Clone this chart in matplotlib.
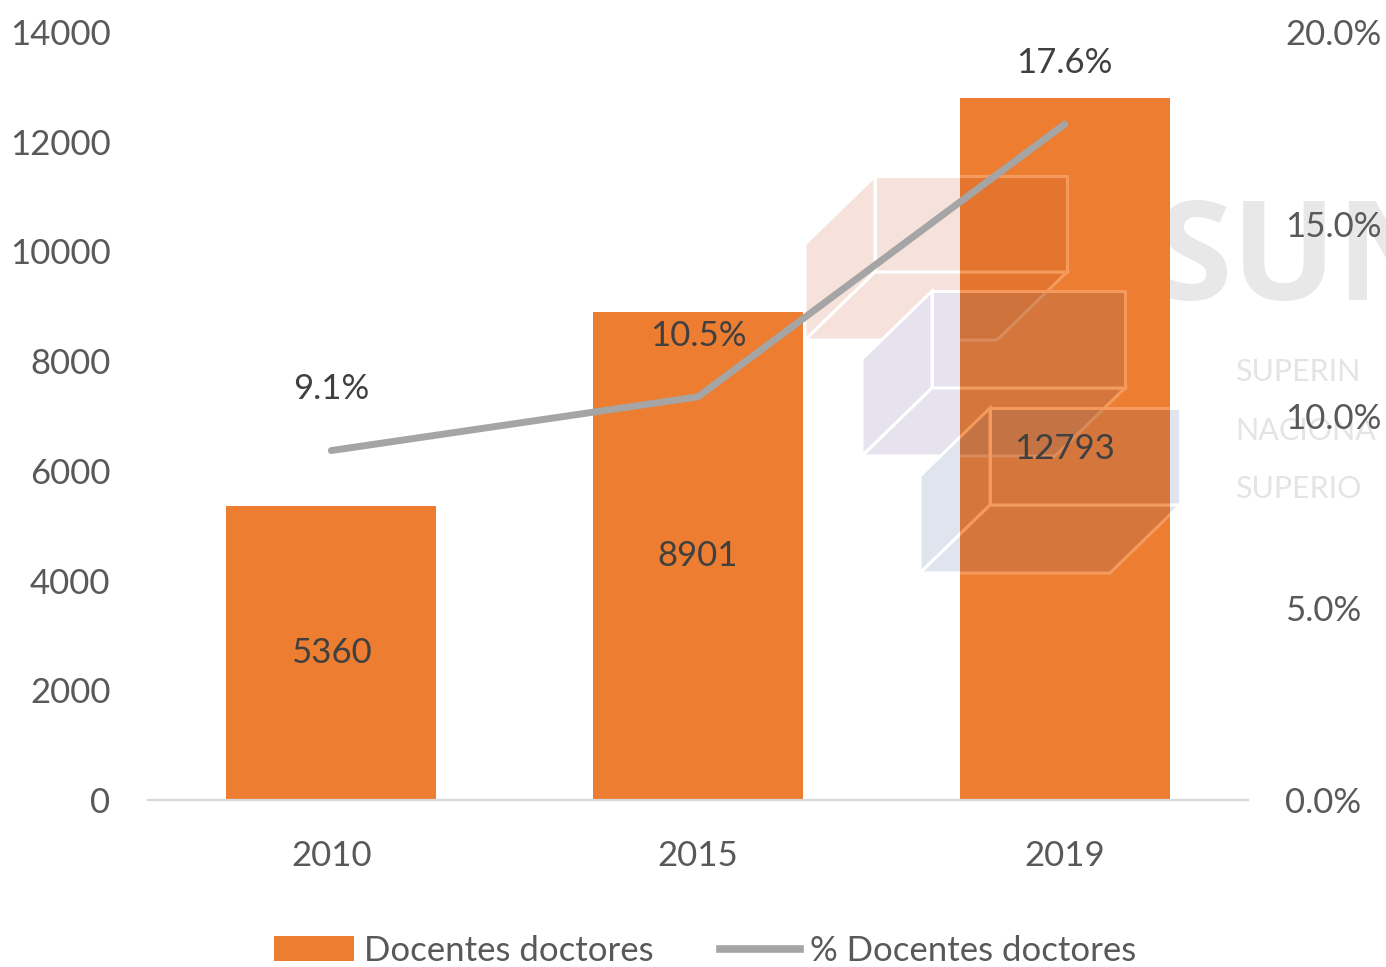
import matplotlib
matplotlib.use("Agg")
import matplotlib.pyplot as plt
import numpy as np
from matplotlib.patches import Polygon
from matplotlib.lines import Line2D
from matplotlib.ticker import FuncFormatter

# ---------------- data ----------------
years = ["2010", "2015", "2019"]
docentes = [5360, 8901, 12793]
pct_docentes = [0.091, 0.105, 0.176]
pct_labels = ["9.1%", "10.5%", "17.6%"]
left_ticks = [0, 2000, 4000, 6000, 8000, 10000, 12000, 14000]
right_ticks = [0.0, 0.05, 0.10, 0.15, 0.20]
bar_name = "Docentes doctores"
line_name = "% Docentes doctores"

W, H = 1386, 967
FONT = ["Lato", "DejaVu Sans"]
plt.rcParams["font.family"] = FONT

BAR_C = "#ED7D31"
LINE_C = "#A5A5A5"
TICK_C = "#595959"
LBL_C = "#404040"
FS = 25

fig = plt.figure(figsize=(W / 100, H / 100), dpi=100)
fig.patch.set_facecolor("white")

def px(x, y):
    return (x / W, 1 - y / H)

ax = fig.add_axes([148 / W, 1 - 800 / H, 1100 / W, 768 / H])
x = np.arange(len(years))
bars = ax.bar(x, docentes, width=0.573, color=BAR_C, zorder=2)
ax.set_xlim(-0.5, 2.5)
ax.set_ylim(0, 14000)
ax.set_yticks(left_ticks)
ax.set_xticks(x)
ax.set_xticklabels(years)
for s in ["top", "right", "left"]:
    ax.spines[s].set_visible(False)
ax.spines["bottom"].set_color("#D9D9D9")
ax.spines["bottom"].set_linewidth(1.6)
ax.tick_params(axis="both", length=0, labelsize=FS, labelcolor=TICK_C)
ax.tick_params(axis="y", pad=27)
ax.tick_params(axis="x", pad=29)

# bar value labels
for b, v in zip(bars, docentes):
    ax.text(b.get_x() + b.get_width() / 2, v / 2, f"{v}", ha="center", va="center",
            fontsize=FS, color=LBL_C, zorder=5)

# ---------------- watermark (decoration) ----------------
boxes = [
    (875, 1067, 176, 272, "#F6E2DB", "#C8602A", 0.25),
    (932, 1125, 291, 388, "#E6E3EF", "#9E6A5A", 0.30),
    (990, 1180, 408, 505, "#E0E4EF", "#9E6A5A", 0.30),
]
dx, dy = -70, 68
for (x0, x1, y0, y1, lc, dc, da) in boxes:
    front = [px(x0, y0), px(x1, y0), px(x1, y1), px(x0, y1)]
    side = [px(x0, y0), px(x0, y1), px(x0 + dx, y1 + dy), px(x0 + dx, y0 + dy)]
    bottom = [px(x0, y1), px(x1, y1), px(x1 + dx, y1 + dy), px(x0 + dx, y1 + dy)]
    for poly in (front, side, bottom):
        p = Polygon(poly, closed=True, transform=fig.transFigure, facecolor=lc,
                    edgecolor="white", linewidth=2.2, zorder=1, clip_on=False)
        ax.add_patch(p)
        q = Polygon(poly, closed=True, transform=fig.transFigure, facecolor=dc,
                    alpha=da, edgecolor="none", zorder=3)
        ax.add_patch(q)
        q.set_clip_path(bars[2])
        e = Polygon(poly, closed=True, transform=fig.transFigure, facecolor="none",
                    edgecolor="#F39A5C", linewidth=2.2, zorder=3)
        ax.add_patch(e)
        e.set_clip_path(bars[2])

ax.text(*px(1156, 300), "SUN", transform=fig.transFigure, fontsize=100,
        fontweight="bold", color="#E8E8E8", family=["Open Sans", "DejaVu Sans"],
        ha="left", va="baseline", zorder=0.5, clip_on=False)
for txt, yy in [("SUPERIN", 381), ("NACIONA", 440), ("SUPERIO", 498)]:
    ax.text(*px(1235, yy), txt, transform=fig.transFigure, fontsize=22,
            color="#E4E4E4", family=["Lato", "DejaVu Sans"], ha="left",
            va="baseline", zorder=0.5, clip_on=False)

# ---------------- line on secondary axis ----------------
ax2 = ax.twinx()
ax2.set_ylim(0, 0.20)
ax2.set_yticks(right_ticks)
ax2.yaxis.set_major_formatter(FuncFormatter(lambda v, p: f"{v * 100:.1f}%"))
for s in ["top", "right", "left", "bottom"]:
    ax2.spines[s].set_visible(False)
ax2.tick_params(axis="y", length=0, labelsize=FS, labelcolor=TICK_C, pad=27)
ax2.plot(x, pct_docentes, color=LINE_C, linewidth=5, solid_capstyle="round", zorder=4)
for xi, v, t in zip(x, pct_docentes, pct_labels):
    ax2.annotate(t, (xi, v), xytext=(0, 44), textcoords="offset points",
                 ha="center", va="center", fontsize=FS, color=LBL_C)

# ---------------- legend ----------------
handles = [
    plt.Rectangle((0, 0), 1, 1, facecolor=BAR_C, edgecolor="none"),
    Line2D([0], [0], color=LINE_C, linewidth=5.5),
]
leg = fig.legend(handles, [bar_name, line_name], loc="center",
                 bbox_to_anchor=px(705, 951), ncol=2, frameon=False,
                 fontsize=FS, handlelength=2.3, handleheight=0.72,
                 handletextpad=0.3, columnspacing=1.9, borderaxespad=0,
                 borderpad=0)
for t in leg.get_texts():
    t.set_color(TICK_C)

fig.savefig("out.png", dpi=100, facecolor="white")
